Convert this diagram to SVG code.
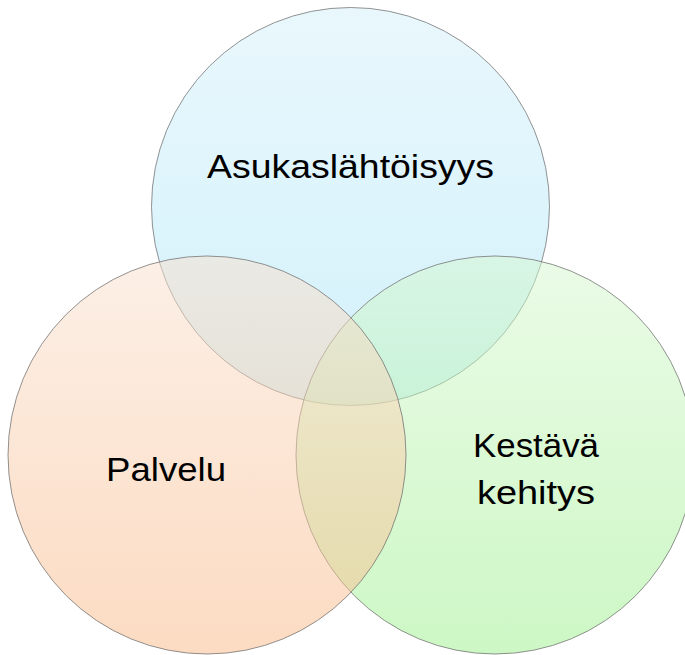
<svg xmlns="http://www.w3.org/2000/svg" width="685" height="655" viewBox="0 0 685 655">
  <style>
    .circ { fill-opacity: 0.5; stroke: #6f6f6f; stroke-opacity: 0.75; stroke-width: 1; }
    .lbl { font-family: "Liberation Sans", Arial, sans-serif; font-size: 34px; fill: #000000; text-anchor: middle; }
  </style>
  <defs>
    <linearGradient id="gBlue" x1="0" y1="0" x2="0" y2="1">
      <stop offset="0" stop-color="#d3f0fa"/>
      <stop offset="1" stop-color="#a5e3f7"/>
    </linearGradient>
    <linearGradient id="gOrange" x1="0" y1="0" x2="0" y2="1">
      <stop offset="0" stop-color="#f9e0ce"/>
      <stop offset="1" stop-color="#f9b885"/>
    </linearGradient>
    <linearGradient id="gGreen" x1="0" y1="0" x2="0" y2="1">
      <stop offset="0" stop-color="#d6f7cf"/>
      <stop offset="1" stop-color="#9bf08b"/>
    </linearGradient>
  </defs>
  <rect x="0" y="0" width="685" height="655" fill="#ffffff"/>
  <g id="node-asukaslahtoisyys">
    <circle class="circ" cx="350.5" cy="206.5" r="199" fill="url(#gBlue)"/>
  </g>
  <g id="node-kestava-kehitys">
    <circle class="circ" cx="495" cy="455" r="199" fill="url(#gGreen)"/>
  </g>
  <g id="node-palvelu">
    <circle class="circ" cx="207" cy="455" r="199" fill="url(#gOrange)"/>
  </g>
  <g id="labels">
    <text class="lbl" x="350.5" y="178" textLength="287" lengthAdjust="spacingAndGlyphs">Asukaslähtöisyys</text>
    <text class="lbl" x="166" y="481" textLength="120" lengthAdjust="spacingAndGlyphs">Palvelu</text>
    <text class="lbl" x="536" y="457" textLength="126" lengthAdjust="spacingAndGlyphs">Kestävä</text>
    <text class="lbl" x="536" y="504" textLength="118" lengthAdjust="spacingAndGlyphs">kehitys</text>
  </g>
  <g id="connectors"></g>
</svg>
